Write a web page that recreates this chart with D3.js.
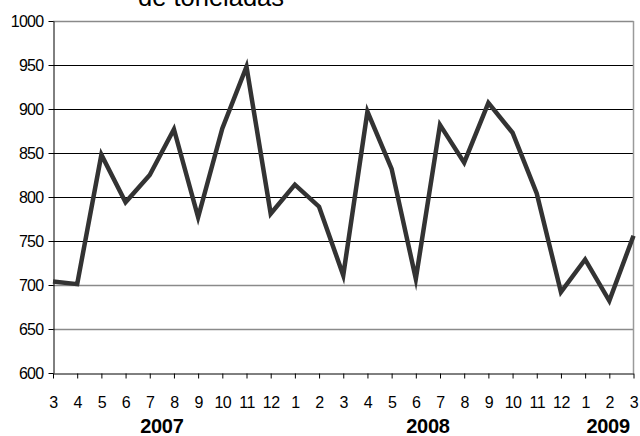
<!DOCTYPE html>
<html>
<head>
<meta charset="utf-8">
<script src="https://cdn.jsdelivr.net/npm/d3@7"></script>
<style>
  html, body { margin: 0; padding: 0; background: #fff; }
  svg { display: block; }
  text { font-family: "Liberation Sans", Arial, sans-serif; fill: #000; }
</style>
</head>
<body>
<svg id="chart" width="640" height="436"></svg>
<script>
// ---- data ----
const monthLabels = ["3","4","5","6","7","8","9","10","11","12","1","2","3","4","5","6","7","8","9","10","11","12","1","2","3"];
const values = [704, 701, 848, 794, 825, 877, 777, 878, 948, 781, 814, 789, 711, 897, 832, 707, 882, 839, 907, 873, 804, 692, 729, 682, 756];
const yearLabels = ["2007", "2008", "2009"];
const yearPositions = [4.5, 15.5, 22.95];
const yTicks = [600, 650, 700, 750, 800, 850, 900, 950, 1000];
const titleText = "de toneladas";

// ---- layout ----
const svg = d3.select("#chart");
const mLeft = 53, mRight = 633.5, mTop = 21, mBottom = 373;

const x = d3.scaleLinear().domain([0, values.length - 1]).range([mLeft, mRight]);
const y = d3.scaleLinear().domain([600, 1000]).range([mBottom, mTop]);

// title (cut off at top, as in the reference)
svg.append("text")
  .attr("x", 138).attr("y", 6)
  .attr("font-size", 25.5)
  .text(titleText);

// gridlines
const grayLines = new Set([1000, 700, 650]);
svg.append("g").selectAll("line")
  .data(yTicks.filter(d => d > 600))
  .join("line")
  .attr("x1", mLeft).attr("x2", mRight)
  .attr("y1", d => Math.round(y(d)) + 0.5)
  .attr("y2", d => Math.round(y(d)) + 0.5)
  .attr("stroke", d => grayLines.has(d) ? "#8a8a8a" : "#000")
  .attr("stroke-width", d => grayLines.has(d) ? 1.5 : 1);

// right border
svg.append("line")
  .attr("x1", mRight).attr("x2", mRight)
  .attr("y1", mTop).attr("y2", mBottom)
  .attr("stroke", "#9a9a9a").attr("stroke-width", 1.5);

// y axis
const yAxis = d3.axisLeft(y).tickValues(yTicks).tickFormat(d3.format("d"))
  .tickSize(5).tickPadding(5).tickSizeOuter(0);
const gy = svg.append("g").attr("transform", `translate(${mLeft + 0.5},0)`).call(yAxis);
gy.select(".domain").attr("stroke", "#000");
gy.selectAll(".tick line").attr("stroke", "#000");
gy.selectAll(".tick text")
  .attr("font-size", 16)
  .attr("letter-spacing", -0.7)
  .attr("font-family", "Liberation Sans, Arial, sans-serif")
  .attr("fill", "#000");

// x axis
const xAxis = d3.axisBottom(x)
  .tickValues(d3.range(values.length))
  .tickFormat(i => monthLabels[i])
  .tickSize(5).tickPadding(18).tickSizeOuter(0);
const gx = svg.append("g").attr("transform", `translate(0,${mBottom + 0.5})`).call(xAxis);
gx.select(".domain").attr("stroke", "#000");
gx.selectAll(".tick line").attr("stroke", "#000");
gx.selectAll(".tick text")
  .attr("font-size", 16)
  .attr("letter-spacing", -0.5)
  .attr("font-family", "Liberation Sans, Arial, sans-serif")
  .attr("fill", "#000");

// year labels
svg.append("g").selectAll("text")
  .data(yearLabels)
  .join("text")
  .attr("x", (d, i) => x(yearPositions[i]))
  .attr("y", 433)
  .attr("text-anchor", "middle")
  .attr("font-size", 20)
  .attr("font-weight", "bold")
  .attr("letter-spacing", -0.3)
  .text(d => d);

// line
const line = d3.line().x((d, i) => x(i)).y(d => y(d));
svg.append("path")
  .datum(values)
  .attr("d", line)
  .attr("fill", "none")
  .attr("stroke", "#333")
  .attr("stroke-width", 4.5)
  .attr("stroke-linejoin", "miter")
  .attr("stroke-miterlimit", 10);
</script>
</body>
</html>
